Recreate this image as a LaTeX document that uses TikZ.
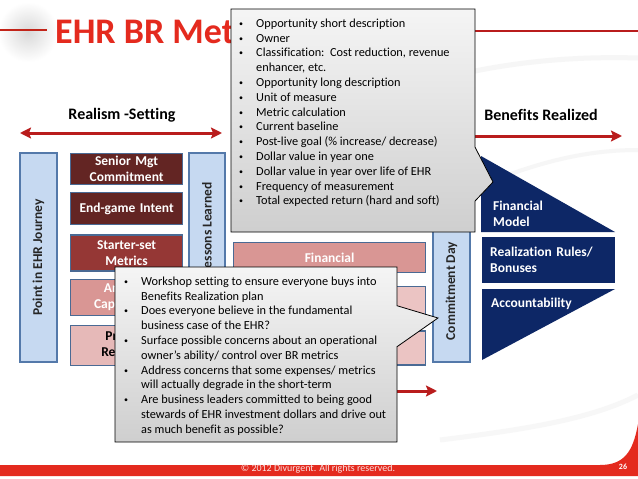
\documentclass[tikz,border=0pt]{standalone}
\usepackage{fontspec}
\setmainfont[Ligatures=NoCommon]{Carlito}
\usetikzlibrary{arrows.meta,positioning,calc,shapes.callouts}
\definecolor{ehrred}{HTML}{E42A1E}
\definecolor{arrred}{HTML}{B91C1C}
\definecolor{maroondk}{HTML}{632523}
\definecolor{maroonmd}{HTML}{953735}
\definecolor{pinkmd}{HTML}{D99694}
\definecolor{pinklt}{HTML}{E6B9B8}
\definecolor{pinkxl}{HTML}{EBC4C3}
\definecolor{bluelt}{HTML}{C6D9F1}
\definecolor{blueedge}{HTML}{5479AA}
\definecolor{boxedge}{HTML}{4A6A94}
\definecolor{navy}{HTML}{0D2766}
\newcommand{\bul}{\makebox[17pt][l]{\raisebox{1pt}{\fontsize{8}{8}\selectfont\textbullet}}}
\newcommand{\ind}{\hspace*{17pt}}

\begin{document}
\begin{tikzpicture}[x=1pt, y=-1pt,
    font=\fontsize{13.5}{16}\selectfont\bfseries,
    stage/.style={draw=boxedge, line width=1.2pt, minimum width=112pt, text width=104pt,
                  align=center, inner sep=2pt, text=white},
    phase/.style={draw=blueedge, fill=bluelt, line width=1.2pt, rotate=90, text=black!85},
    navybox/.style={fill=navy, text=white, align=left},
    redarr/.style={arrred, line width=3pt, >={Stealth[length=11pt,width=11pt,inset=2pt]}},
    note/.style={rectangle callout, draw=black, line width=0.8pt, top color=gray!8, bottom color=gray!38},
    notetext/.style={font=\fontsize{12.3}{14.8}\selectfont, align=left, inner sep=0pt, anchor=north west}
]
  \fill[white] (0,0) rectangle (638,479);
  \useasboundingbox (0,0) rectangle (638,479);

  % faint background swooshes
  \draw[gray!7, line width=5pt] (330,120) .. controls (430,70) and (540,55) .. (638,58);
  \draw[gray!7, line width=4pt] (470,190) .. controls (540,160) and (590,150) .. (638,150);
  \draw[gray!6, line width=5pt] (440,440) .. controls (520,430) and (590,420) .. (638,395);

  % title
  \shade[inner color=gray!30, outer color=white] (28,32) circle (30);
  \draw[ehrred!85!black, line width=1.5pt] (0,30) -- (47,30);
  \node[anchor=base west, inner sep=0pt, text=ehrred, font=\fontsize{36}{40}\selectfont\bfseries] (ttl) at (55,43) {EHR BR Met};
  \draw[arrred, line width=1.2pt] (460,31) -- (638,31);

  \node[font=\fontsize{16}{18}\selectfont\bfseries] (rset) at (122,115) {Realism -Setting};
  \node[font=\fontsize{16}{18}\selectfont\bfseries] (bre) at (541,115) {Benefits Realized};
  \coordinate (rsL) at (20,133);
  \coordinate (rsR) at (222,133);
  \coordinate (brL) at (460,136);
  \coordinate (brR) at (622,136);
  \coordinate (bmL) at (330,391);
  \coordinate (bmR) at (437,391);
  \draw[redarr, <->] (rsL) -- (rsR);
  \draw[redarr, ->] (brL) -- (brR);
  \draw[redarr, ->] (bmL) -- (bmR);

  % journey columns
  \node[phase, minimum width=209pt, minimum height=37pt] (pnt) at (38.5,257.5) {Point in EHR Journey};
  \node[phase, minimum width=150pt, minimum height=36pt] (les) at (207,228) {Lessons Learned};
  \node[phase, minimum width=142pt, minimum height=37pt] (com) at (451.5,291) {Commitment Day};

  \node[stage, fill=maroondk, minimum height=31pt, anchor=north west] (sen) at (70,153) {Senior Mgt\\Commitment};
  \node[stage, fill=maroondk, minimum height=32pt, below=7pt of sen] (end) {End-game Intent};
  \node[stage, fill=maroonmd, minimum height=36pt, below=9pt of end] (sta) {Starter-set\\Metrics};
  \node[stage, fill=pinkmd, minimum height=36pt, below=7pt of sta] (ana) {Analytic\\Capabilities};
  \node[stage, fill=pinklt, text=black, minimum height=40pt, below=9pt of ana] (pro) {Process\\Redesign};

  \node[stage, fill=pinkmd, minimum width=192pt, text width=184pt, minimum height=30pt, anchor=north west] (fin) at (233,242) {Financial};
  \node[stage, fill=pinkxl, minimum width=192pt, minimum height=40pt, below=13pt of fin] (mb2) {};
  \node[stage, fill=pinkxl, minimum width=192pt, minimum height=34pt, below=3pt of mb2] (mb3) {};

  % realized side
  \fill[navy] (481,156) -- (615,232) -- (481,232) -- cycle;
  \node[navybox, anchor=west, inner sep=0pt] (fmod) at (493,214) {Financial\\Model};
  \node[navybox, minimum width=133pt, minimum height=46pt, text width=117pt, inner xsep=8pt, anchor=north west] (rul) at (482,237) {Realization Rules/\\Bonuses};
  \fill[navy] (482,289) -- (615,289) -- (482,360) -- cycle;
  \node[navybox, anchor=west, inner sep=0pt] (acc) at (491,304) {Accountability};

  % callouts
  \node[note, minimum width=244pt, minimum height=223pt, callout absolute pointer={(493,182)}, callout pointer width=54pt] (nt1) at (353,120.5) {};
  \node[notetext] (nt1txt) at (239,18.5) {\bul Opportunity short description\\
    \bul Owner\\
    \bul Classification:\ \ Cost reduction, revenue\\
    \ind enhancer, etc.\\
    \bul Opportunity long description\\
    \bul Unit of measure\\
    \bul Metric calculation\\
    \bul Current baseline\\
    \bul Post-live goal (\% increase/ decrease)\\
    \bul Dollar value in year one\\
    \bul Dollar value in year over life of EHR\\
    \bul Frequency of measurement\\
    \bul Total expected return (hard and soft)};

  \node[note, minimum width=282pt, minimum height=175pt, callout absolute pointer={(438,318)}, callout pointer width=41pt] (nt2) at (256,354.5) {};
  \node[notetext] (nt2txt) at (124,276.5) {\bul Workshop setting to ensure everyone buys into\\
    \ind Benefits Realization plan\\
    \bul Does everyone believe in the fundamental\\
    \ind business case of the EHR?\\
    \bul Surface possible concerns about an operational\\
    \ind owner’s ability/ control over BR metrics\\
    \bul Address concerns that some expenses/ metrics\\
    \ind will actually degrade in the short-term\\
    \bul Are business leaders committed to being good\\
    \ind stewards of EHR investment dollars and drive out\\
    \ind as much benefit as possible?};

  % footer
  \fill[ehrred] (0,465) -- (600,465) .. controls (624,465) and (633,452) .. (638,424) -- (638,476) -- (0,476) -- cycle;
  \node[text=white!85!ehrred, font=\fontsize{10}{11}\selectfont] (cpy) at (318,469) {\textcopyright{} 2012 Divurgent. All rights reserved.};
  \node[text=white, font=\fontsize{8}{9}\selectfont\bfseries] (pg) at (623,467) {26};
\end{tikzpicture}
\end{document}
